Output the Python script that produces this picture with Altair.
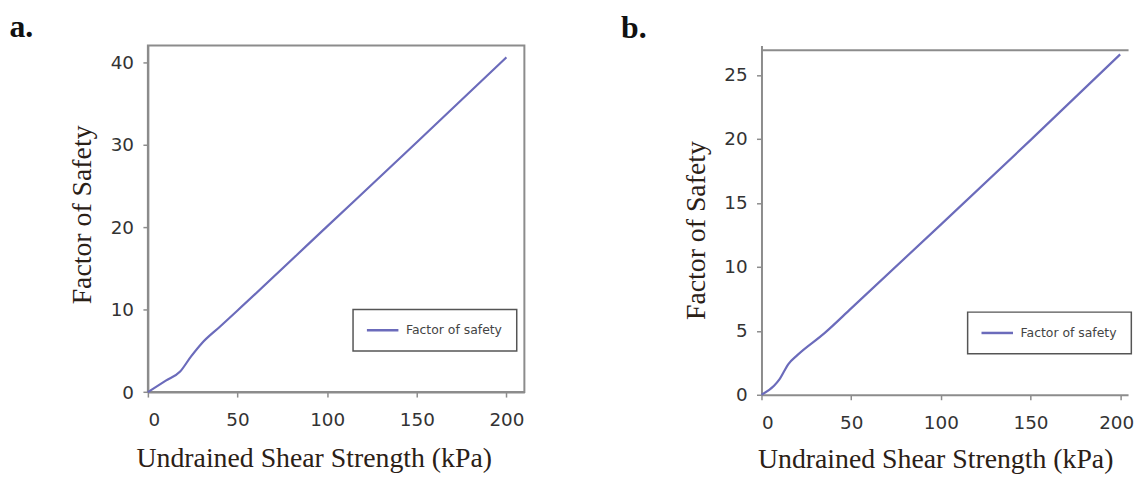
import altair as alt
import pandas as pd

# ---- data ----
series_name = "Factor of safety"
x_a = [0, 10, 18, 24, 30, 40, 50, 100, 150, 200]
fs_a = [0, 1.4, 2.5, 4.3, 5.9, 7.9, 9.9, 20.1, 30.3, 40.6]
x_b = [0, 7, 10, 15, 20, 35, 50, 100, 150, 200]
fs_b = [0, 0.7, 1.2, 2.4, 3.1, 4.8, 6.75, 13.3, 19.9, 26.6]
x_ticks = [0, 50, 100, 150, 200]
y_ticks_a = [0, 10, 20, 30, 40]
y_ticks_b = [0, 5, 10, 15, 20, 25]
panel_labels = ["a.", "b."]
x_title = "Undrained Shear Strength (kPa)"
y_title = "Factor of Safety"

LINE = "#6b6bbb"
FRAME = "#8c8c8c"
TICKLAB = "#333333"
TITLE = "#2b2016"


def panel(xs, ys, yticks, xmax, ymax, width, height, ytitle_y, xtitle_x, xtitle_y,
          leg_x, leg_y, label, label_x, label_y, framed, last_label_shift):
    df = pd.DataFrame({"x": xs, "fs": ys, "series": [series_name] * len(xs)})
    xscale = alt.Scale(domain=[0, xmax], nice=False, zero=False)
    yscale = alt.Scale(domain=[0, ymax], nice=False, zero=False)
    line = alt.Chart(df).mark_line(strokeWidth=2.2, interpolate="monotone").encode(
        x=alt.X("x:Q", scale=xscale, axis=alt.Axis(
            values=x_ticks, title=x_title, grid=False,
            titleFont="Liberation Serif", titleFontSize=28, titleFontWeight="normal",
            titleColor=TITLE, titleX=xtitle_x, titleY=xtitle_y, titleAlign="center",
            titleBaseline="alphabetic",
            labelFont="DejaVu Sans", labelFontSize=18.5, labelColor=TICKLAB,
            labelPadding=13.5, tickSize=5, tickColor=FRAME, tickWidth=1.5,
            labelOffset=alt.condition("datum.value == 200", alt.value(last_label_shift), alt.value(0)),
            domainColor=FRAME, domainWidth=2)),
        y=alt.Y("fs:Q", scale=yscale, axis=alt.Axis(
            values=yticks, title=y_title, grid=False,
            titleFont="Liberation Serif", titleFontSize=28, titleFontWeight="normal",
            titleColor=TITLE, titleX=-65.5, titleY=ytitle_y, titleAlign="center",
            titleBaseline="middle", titleAngle=-90,
            labelFont="DejaVu Sans", labelFontSize=18.5, labelColor=TICKLAB,
            labelPadding=9.5, tickSize=5, tickColor=FRAME, tickWidth=1.5,
            domainColor=FRAME, domainWidth=2)),
        color=alt.Color("series:N", scale=alt.Scale(range=[LINE]), legend=alt.Legend(
            orient="none", legendX=leg_x, legendY=leg_y, title=None, padding=14,
            strokeColor="#555555", fillColor="white", symbolType="M-3,0H3",
            symbolSize=112, symbolStrokeWidth=2.5, symbolStrokeColor=LINE,
            symbolFillColor="transparent", symbolOffset=8.85,
            labelFont="DejaVu Sans", labelFontSize=12.5, labelColor="#444444",
            labelOffset=16.5)),
    )
    lab = alt.Chart(pd.DataFrame({"t": [label]})).mark_text(
        align="left", baseline="alphabetic", font="Liberation Serif",
        fontSize=32, fontWeight="bold", color="#111111",
    ).encode(x=alt.value(label_x), y=alt.value(label_y), text="t:N")
    layers = [line, lab]
    if not framed:
        top = alt.Chart(df).mark_rule(opacity=0).encode(
            x=alt.X("x:Q", scale=xscale, axis=alt.Axis(
                orient="top", labels=False, ticks=False, title=None, grid=False,
                domainColor=FRAME, domainWidth=2, offset=-4.2)))
        layers.append(top)
    ch = alt.layer(*layers)
    if not framed:
        ch = ch.resolve_axis(x="independent")
    view = alt.ViewBackground(stroke=FRAME, strokeWidth=2) if framed else alt.ViewBackground(stroke="transparent")
    return ch.properties(width=width, height=height, view=view)


pa = panel(x_a, fs_a, y_ticks_a, 210, 42.03, 379.5, 349.3, 170.2, 167.2, 74.9,
           206.8, 266, panel_labels[0], -139.5, -8.3, True, 0)
pb = panel(x_b, fs_b, y_ticks_b, 204.4, 27.29, 369.5, 352, 186, 175.1, 73.7,
           207.8, 268.7, panel_labels[1], -141.5, -8.0, False, -4)

chart = alt.hconcat(pa, pb, spacing=238.5, bounds="flush").resolve_scale(
    color="independent").properties(
    padding={"left": 0, "top": 0, "right": 0, "bottom": -3.5}
).configure_legend(strokeWidth=1.5)

chart.save("out.html", embed_options={"renderer": "svg", "actions": False})
